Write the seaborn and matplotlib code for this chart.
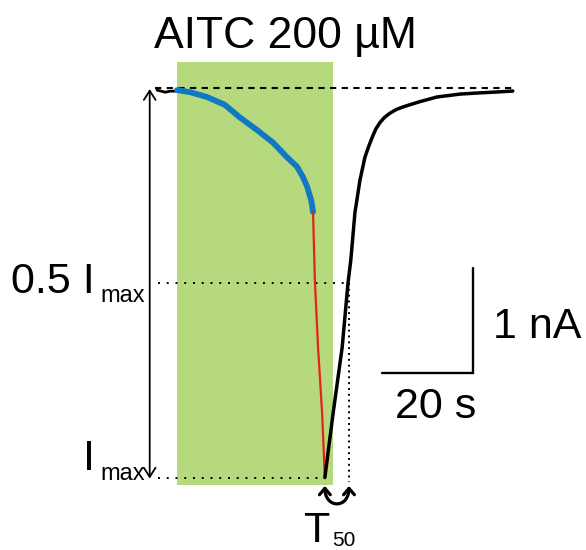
import matplotlib
matplotlib.use("Agg")
import matplotlib.pyplot as plt
from matplotlib.patches import Rectangle, FancyArrowPatch
from matplotlib.path import Path
import seaborn as sns

# ---------------- data (time in s, current in nA) ----------------
pre_t = [-4.4, -3.5, -2.6, -1.5, -0.4, 0.0]
pre_i = [-0.01, -0.02, -0.03, -0.02, -0.02, -0.01]

blue_t = [0.0, 2.9, 6.6, 10.5, 13.8, 17.6, 21.1, 24.2, 26.4, 27.7, 28.6, 29.5, 29.9]
blue_i = [-0.01, -0.03, -0.076, -0.15, -0.27, -0.39, -0.51, -0.65, -0.74, -0.84, -0.93, -1.06, -1.17]

red_t = [29.9, 30.3, 31.0, 31.9, 32.5]
red_i = [-1.17, -1.82, -2.46, -3.09, -3.70]

rec_t = [32.5, 34.3, 36.3, 37.6, 38.2, 39.1, 40.2, 41.3, 42.1, 42.9, 43.7, 44.6, 45.6,
         46.8, 48.2, 49.7, 51.5, 53.4, 57.1, 62.2, 65.9, 69.9, 73.8]
rec_i = [-3.70, -3.09, -2.46, -1.84, -1.63, -1.18, -0.87, -0.65, -0.55, -0.46, -0.38,
         -0.32, -0.27, -0.23, -0.195, -0.17, -0.145, -0.12, -0.076, -0.048, -0.038,
         -0.029, -0.019]

aitc_start, aitc_end = 0.0, 34.3
i_max = -3.70
t_peak = 32.5
t_half = 37.8
baseline_extent = [-4.8, 74.0]

title_text = "AITC 200 µM"
scale_t_label = "20 s"
scale_i_label = "1 nA"
scale_t, scale_i = 20.0, 1.0

# ---------------- figure ----------------
sns.set_theme(style="white")
plt.rcParams["font.family"] = ["Liberation Sans", "DejaVu Sans"]
plt.rcParams["text.color"] = "black"

fig = plt.figure(figsize=(5.86, 5.5), dpi=100)
ax = fig.add_axes([0, 0, 1, 1])
ax.set_xlim(-38.90, 89.89)
ax.set_ylim(-4.390, 0.848)
ax.axis("off")

# AITC application box
ax.add_patch(Rectangle((aitc_start, -3.771), aitc_end - aitc_start, 4.028,
                       facecolor="#b5d97c", edgecolor="none", zorder=0))

# traces
sns.lineplot(x=pre_t, y=pre_i, sort=False, color="black", lw=2.0, ax=ax, zorder=3)
sns.lineplot(x=blue_t, y=blue_i, sort=False, color="#1378c4", lw=4.2, ax=ax, zorder=3)
sns.lineplot(x=red_t, y=red_i, sort=False, color="#e3241b", lw=1.6, ax=ax, zorder=3)
sns.lineplot(x=rec_t, y=rec_i, sort=False, color="black", lw=2.5, ax=ax, zorder=3)

# baseline (dashed)
ax.plot(baseline_extent, [0.01, 0.01], color="black", lw=1.5,
        linestyle=(0, (3.0, 2.6)), zorder=2)
# dotted guides
ax.plot([-4.2, t_half], [i_max / 2, i_max / 2], color="black", lw=1.4,
        linestyle=(0, (1, 3.5)), zorder=2)
ax.plot([-4.2, t_peak], [i_max, i_max], color="black", lw=1.4,
        linestyle=(0, (1, 3.5)), zorder=2)
ax.plot([t_half, t_half], [i_max / 2, -3.74], color="black", lw=1.4,
        linestyle=(0, (1, 2.0)), zorder=2)

# Imax double arrow
ax.annotate("", xy=(-6.0, i_max - 0.01), xytext=(-6.0, 0.0),
            arrowprops=dict(arrowstyle="<->,head_length=0.55,head_width=0.35",
                            color="black", lw=1.3, shrinkA=0, shrinkB=0))

# T50 curved arrow (U shape, heads pointing up)
top_i, ctrl_i = -3.78, -4.0
t50_path = Path([(t_peak, top_i), (t_peak, ctrl_i), (t_half, ctrl_i), (t_half, top_i)],
                [Path.MOVETO, Path.CURVE4, Path.CURVE4, Path.CURVE4])
ax.add_patch(FancyArrowPatch(path=t50_path,
                             arrowstyle="<->,head_length=0.35,head_width=0.3",
                             mutation_scale=13, color="black", lw=2.3, zorder=4))

# scale bar
sb_t0, sb_i0 = 65.05, -2.705
ax.plot([sb_t0 - scale_t, sb_t0, sb_t0], [sb_i0, sb_i0, sb_i0 + scale_i],
        color="black", lw=1.7, solid_joinstyle="miter", zorder=3)

big = 31
small = 17
ax.text(23.9, 0.390, title_text, fontsize=32, ha="center", va="baseline")
ax.text(-18.0, -1.943, "0.5 I", fontsize=big, ha="right", va="baseline")
ax.text(-16.9, -2.029, "max", fontsize=small, ha="left", va="baseline")
ax.text(-18.0, -3.629, "I", fontsize=big, ha="right", va="baseline")
ax.text(-16.9, -3.724, "max", fontsize=small, ha="left", va="baseline")
ax.text(30.9, -4.314, "T", fontsize=big, ha="center", va="baseline")
ax.text(34.0, -4.355, "50", fontsize=15, ha="left", va="baseline")
ax.text(69.5, -2.371, scale_i_label, fontsize=big, ha="left", va="baseline")
ax.text(47.9, -3.133, scale_t_label, fontsize=big, ha="left", va="baseline")

fig.savefig("out.png", dpi=100)
